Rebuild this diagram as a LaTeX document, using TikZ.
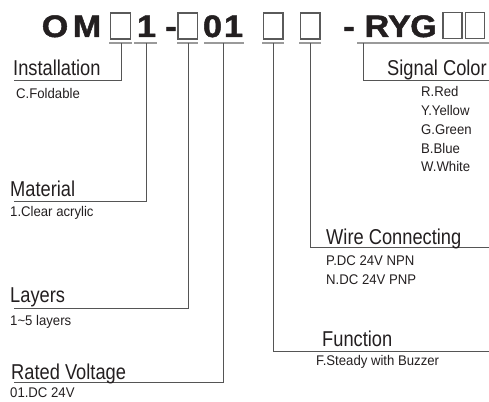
\documentclass[tikz,border=0pt]{standalone}
\usepackage{fontspec}
\setmainfont{Liberation Sans}
\newfontfamily\labfont{Liberation Sans}[FakeStretch=0.85]
\newfontfamily\subfont{Liberation Sans}[FakeStretch=0.94]
\newfontfamily\titfont{Liberation Sans Bold}[FakeStretch=1.1,FakeBold=1.6]
\definecolor{ink}{HTML}{231F20}
\definecolor{conncol}{HTML}{555555}
\definecolor{ulcol}{HTML}{9A9A9A}
\definecolor{boxcol}{HTML}{5A5A5A}
\tikzset{
  lab/.style={anchor=base west, inner sep=0pt, font=\labfont\fontsize{21.5}{21.5}\selectfont, text=ink},
  sub/.style={anchor=base west, inner sep=0pt, font=\subfont\fontsize{14}{14}\selectfont, text=ink},
  tit/.style={anchor=base, inner sep=0pt, font=\titfont\fontsize{31}{31}\selectfont, text=ink},
  conn/.style={draw=conncol, line width=1pt},
  ul/.style={draw=ulcol, line width=1.3pt},
  ph/.style={draw=boxcol, line width=1.1pt}
}
\begin{document}
\begin{tikzpicture}[x=1pt,y=-1pt]
\useasboundingbox (0,0) rectangle (489,401);
% title
\node[tit] (tO) at (55,37) {O};
\node[tit] (tM) at (87,37) {M};
\node[tit] (t1) at (146.5,37) {1};
\node[tit] (td1) at (171,37) {-};
\node[tit] (t0) at (212.5,37) {0};
\node[tit] (t1b) at (233.5,37) {1};
\node[tit] (td2) at (349,37) {-};
\node[tit] (tR) at (377,37) {R};
\node[tit] (tY) at (399.5,37) {Y};
\node[tit] (tG) at (423.5,37) {G};
% placeholder boxes
\draw[ph] (110.5,13) rectangle (130.5,39);
\draw[ph] (178,13) rectangle (197.5,39);
\draw[ph] (263.5,13) rectangle (283,39);
\draw[ph] (300.5,13) rectangle (320,39);
\draw[ph] (443,12.5) rectangle (462,38.5);
\draw[ph] (465.5,12.5) rectangle (484.5,38.5);
% underlines
\draw[ul] (109,43) -- (132,43);
\draw[ul] (134,43) -- (157,43);
\draw[ul] (177,43) -- (198,43);
\draw[ul] (204,43) -- (244,43);
\draw[ul] (262,43) -- (284,43);
\draw[ul] (299,43) -- (321,43);
\draw[ul] (357,43) -- (489,43);
% tick coordinates
\coordinate (k1) at (121,43);
\coordinate (k2) at (146,43);
\coordinate (k3) at (188,43);
\coordinate (k4) at (223.5,43);
\coordinate (k5) at (273,43);
\coordinate (k6) at (310,43);
\coordinate (k7) at (363,43);
\coordinate (e1) at (14,81);
\coordinate (e2) at (14,201);
\coordinate (e3) at (14,308);
\coordinate (e4) at (14,382.5);
\coordinate (e5) at (489,351);
\coordinate (e6) at (489,247.5);
\coordinate (e7) at (489,81);
\draw[conn] (k1) |- (e1);
\draw[conn] (k2) |- (e2);
\draw[conn] (k3) |- (e3);
\draw[conn] (k4) |- (e4);
\draw[conn] (k5) |- (e5);
\draw[conn] (k6) |- (e6);
\draw[conn] (k7) |- (e7);
% labels left
\node[lab] (inst) at (13,76) {Installation};
\node[sub] (inst1) at (16,99) {C.Foldable};
\node[lab] (mat) at (10,196) {Material};
\node[sub] (mat1) at (10,216) {1.Clear acrylic};
\node[lab] (lay) at (10,302) {Layers};
\node[sub] (lay1) at (10,325) {1\textasciitilde5 layers};
\node[lab] (rv) at (11,379) {Rated Voltage};
\node[sub] (rv1) at (10,397) {01.DC 24V};
% labels right
\node[lab] (sc) at (387,76) {Signal Color};
\node[sub] (sc1) at (421,96.7) {R.Red};
\node[sub] (sc2) at (421,115.5) {Y.Yellow};
\node[sub] (sc3) at (421,134.5) {G.Green};
\node[sub] (sc4) at (421,153) {B.Blue};
\node[sub] (sc5) at (421,171.7) {W.White};
\node[lab] (wc) at (326,244) {Wire Connecting};
\node[sub] (wc1) at (326,265.7) {P.DC 24V NPN};
\node[sub] (wc2) at (326,284) {N.DC 24V PNP};
\node[lab] (fn) at (322,346.7) {Function};
\node[sub] (fn1) at (316,365.7) {F.Steady with Buzzer};
\end{tikzpicture}
\end{document}
